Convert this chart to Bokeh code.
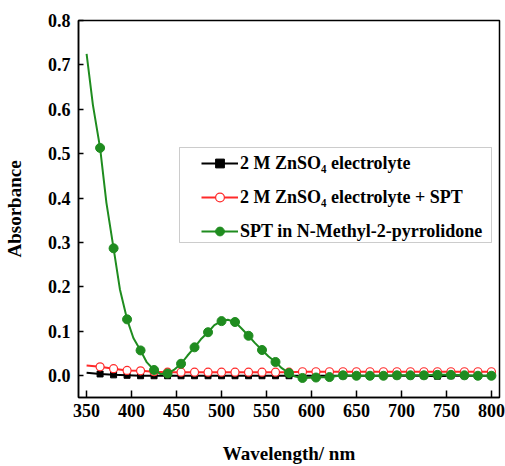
from bokeh.plotting import figure
from bokeh.models import Range1d, FixedTicker, PrintfTickFormatter, Legend, LegendItem, BoxAnnotation
from bokeh.embed import file_html
from bokeh.resources import INLINE

# marker wavelengths (nm)
wl = [365, 380, 395, 410, 425, 440, 455, 470, 485, 500, 515, 530, 545, 560, 575,
      590, 605, 620, 635, 650, 665, 680, 695, 710, 725, 740, 755, 770, 785, 800]

znso4 = [0.004, 0.002, 0.001, 0.0, 0.0, 0.0, 0.0, 0.0, 0.0, 0.0, 0.0, 0.0, 0.0, 0.0, 0.0,
         0.0, 0.0, 0.0, 0.0, 0.0, 0.0, 0.0, 0.0, 0.0, 0.0, -0.001, 0.0, 0.0, 0.0, 0.0]
znso4_spt = [0.020, 0.016, 0.012, 0.011, 0.009, 0.008, 0.008, 0.008, 0.008, 0.008, 0.008, 0.008,
             0.008, 0.008, 0.008, 0.009, 0.009, 0.009, 0.009, 0.009, 0.009, 0.009, 0.009, 0.009,
             0.009, 0.009, 0.009, 0.009, 0.009, 0.009]
spt_nmp = [0.513, 0.287, 0.127, 0.057, 0.013, 0.005, 0.027, 0.064, 0.098, 0.123, 0.121, 0.090,
           0.058, 0.031, 0.006, -0.005, -0.004, -0.003, 0.001, 0.0, 0.0, 0.0, 0.001, 0.001,
           0.001, 0.002, 0.002, 0.001, 0.0, 0.0]

# line traces (including the unmarked start at 350 nm)
line_wl_black = [350] + wl
line_black = [0.007] + znso4
line_wl_red = [350] + wl
line_red = [0.023] + znso4_spt
line_wl_green = [350, 357, 365, 372, 380, 387, 395, 402, 410, 417, 425, 432, 440, 447, 455,
                 462, 470, 477, 485, 492, 500, 507, 515, 522, 530, 537, 545, 552, 560, 567,
                 575, 582, 590, 605, 620, 635, 650, 665, 680, 695, 710, 725, 740, 755, 770,
                 785, 800]
line_green = [0.725, 0.610, 0.513, 0.390, 0.287, 0.195, 0.127, 0.085, 0.057, 0.030, 0.013,
              0.004, 0.005, 0.013, 0.027, 0.045, 0.064, 0.082, 0.098, 0.114, 0.123, 0.126,
              0.121, 0.107, 0.090, 0.074, 0.058, 0.044, 0.031, 0.017, 0.006, -0.002, -0.005,
              -0.004, -0.003, 0.001, 0.0, 0.0, 0.0, 0.001, 0.001, 0.001, 0.002, 0.002, 0.001,
              0.0, 0.0]

x_ticks = [350, 400, 450, 500, 550, 600, 650, 700, 750, 800]
y_ticks = [0.0, 0.1, 0.2, 0.3, 0.4, 0.5, 0.6, 0.7, 0.8]

labels = ["2 M ZnSO\u2084 electrolyte", "2 M ZnSO\u2084 electrolyte + SPT",
          "SPT in N-Methyl-2-pyrrolidone"]

GREEN = "#1f8c1f"
RED = "#ff2a2a"
FONT = "Times New Roman, Liberation Serif, serif"

p = figure(width=505, height=466, output_backend="svg", toolbar_location=None,
           x_range=Range1d(341, 809), y_range=Range1d(-0.049, 0.8),
           min_border_left=77, min_border_right=6, min_border_top=20, min_border_bottom=68)

p.xgrid.visible = False
p.ygrid.visible = False
p.outline_line_color = "black"
p.outline_line_width = 1.5
p.background_fill_color = "white"
p.border_fill_color = "white"

lb = p.line(line_wl_black, line_black, color="black", line_width=2)
mb = p.scatter(wl, znso4, marker="square", size=6, color="black")
lr = p.line(line_wl_red, line_red, color=RED, line_width=2)
mr = p.scatter(wl, znso4_spt, marker="circle", size=8, line_color=RED, fill_color="white",
               line_width=1.2)
lg = p.line(line_wl_green, line_green, color=GREEN, line_width=2)
mg = p.scatter(wl, spt_nmp, marker="circle", size=9, color=GREEN)

for ax in (p.xaxis[0], p.yaxis[0]):
    ax.axis_line_width = 1.5
    ax.major_tick_line_width = 1.5
    ax.major_tick_out = 0
    ax.minor_tick_out = 0
    ax.minor_tick_in = 0
    ax.major_label_text_font = FONT
    ax.major_label_text_font_style = "bold"
    ax.major_label_text_font_size = "18px"
    ax.major_label_text_color = "black"
    ax.axis_label_text_font = FONT
    ax.axis_label_text_font_style = "bold"
    ax.axis_label_text_font_size = "19px"
    ax.axis_label_text_color = "black"

p.xaxis.major_tick_in = 7
p.yaxis.major_tick_in = 5
p.xaxis.ticker = FixedTicker(ticks=x_ticks)
p.yaxis.ticker = FixedTicker(ticks=y_ticks)
p.yaxis.formatter = PrintfTickFormatter(format="%.1f")
p.xaxis.axis_label = "Wavelength/ nm"
p.yaxis.axis_label = "Absorbance"
p.xaxis.major_label_standoff = 6
p.xaxis.axis_label_standoff = 23
p.yaxis.major_label_standoff = 8
p.yaxis.axis_label_standoff = 20

# legend frame
box = BoxAnnotation(left=179, right=491, top=147, bottom=242,
                    left_units="canvas", right_units="canvas",
                    top_units="canvas", bottom_units="canvas",
                    fill_color="white", fill_alpha=1,
                    line_color="#555555", line_width=1, level="annotation")
p.add_layout(box)

legend = Legend(items=[
    LegendItem(label=labels[0], renderers=[lb, mb]),
    LegendItem(label=labels[1], renderers=[lr, mr]),
    LegendItem(label=labels[2], renderers=[lg, mg]),
], location=(123, 155))
legend.label_text_font = FONT
legend.label_text_font_style = "bold"
legend.label_text_font_size = "18px"
legend.label_text_color = "black"
legend.glyph_width = 37
legend.glyph_height = 22
legend.label_height = 22
legend.spacing = 12
legend.padding = 0
legend.margin = 0
legend.label_standoff = 2
legend.border_line_alpha = 0
legend.background_fill_alpha = 0
p.add_layout(legend, "center")

open("out.html", "w").write(file_html(p, INLINE))
